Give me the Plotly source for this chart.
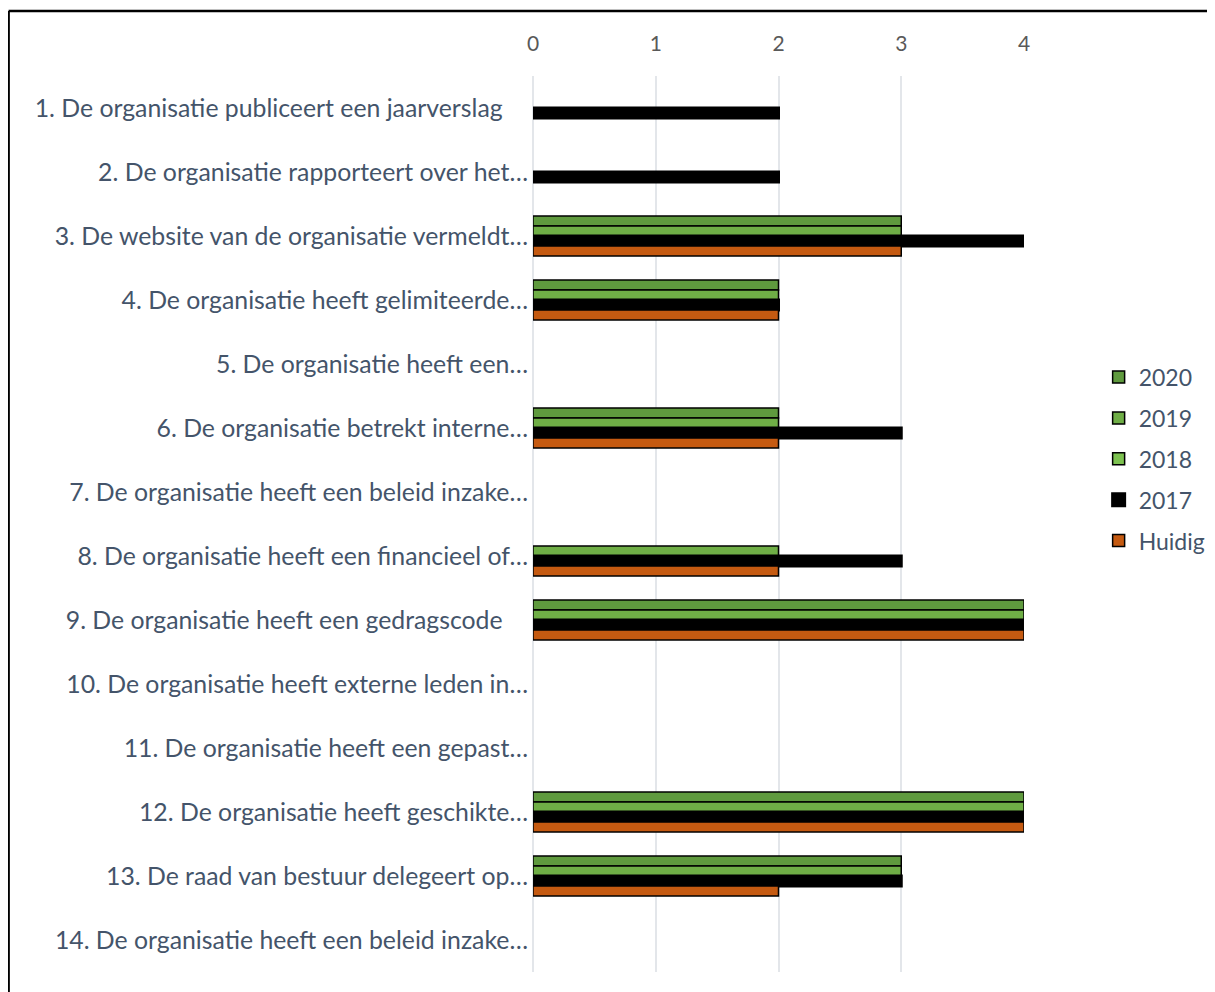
import plotly.graph_objects as go

categories = [
    "1. De organisatie publiceert een jaarverslag\u00a0\u00a0\u00a0\u00a0",
    "2. De organisatie rapporteert over het…",
    "3. De website van de organisatie vermeldt…",
    "4. De organisatie heeft gelimiteerde…",
    "5. De organisatie heeft een…",
    "6. De organisatie betrekt interne…",
    "7. De organisatie heeft een beleid inzake…",
    "8. De organisatie heeft een financieel of…",
    "9. De organisatie heeft een gedragscode\u00a0\u00a0\u00a0\u00a0",
    "10. De organisatie heeft externe leden in…",
    "11. De organisatie heeft een gepast…",
    "12. De organisatie heeft geschikte…",
    "13. De raad van bestuur delegeert op…",
    "14. De organisatie heeft een beleid inzake…",
]

v2020 = [None, None, 3, 2, None, 2, None, None, 4, None, None, 4, 3, None]
v2019 = [None, None, 3, 2, None, 2, None, 2, 4, None, None, 4, 3, None]
v2018 = [None] * 14
v2017 = [2, 2, 4, 2, None, 3, None, 3, 4, None, None, 4, 3, None]
vHuidig = [None, None, 3, 2, None, 2, None, 2, 4, None, None, 4, 2, None]

x_ticks = [0, 1, 2, 3, 4]

series = [
    ("2020", v2020, "#5F9A3E", "g1", 1.5),
    ("2019", v2019, "#6FAE46", "g2", 1.5),
    ("2018", v2018, "#7DC250", "g2", 1.5),
    ("2017", v2017, "#000000", "g3", 3),
    ("Huidig", vHuidig, "#C55A11", "g4", 1.5),
]

fig = go.Figure()
for name, vals, color, og, lw in series:
    fig.add_trace(go.Bar(
        y=categories, x=vals, name=name, orientation="h",
        offsetgroup=og, legendgroup=name,
        marker=dict(color=color, line=dict(color="#000000", width=lw)),
    ))

font_family = "Lato, Calibri, sans-serif"

fig.update_layout(
    width=1215, height=992,
    margin=dict(l=525, r=199, t=68, b=28),
    paper_bgcolor="white", plot_bgcolor="white",
    barmode="group", bargap=0.375, bargroupgap=0,
    font=dict(family=font_family, color="#44546A", size=24.8),
    xaxis=dict(
        side="top", range=[0, 4], tickvals=x_ticks, ticktext=[str(t) for t in x_ticks],
        showgrid=True, gridcolor="#E3E6EA", gridwidth=1.5,
        zeroline=True, zerolinecolor="#E3E6EA", zerolinewidth=1.5,
        showline=False, ticks="",
        tickfont=dict(size=21, color="#595959", family=font_family),
        ticklabelstandoff=20,
    ),
    yaxis=dict(
        autorange="reversed", showgrid=False, zeroline=False, showline=False,
        ticks="", tickfont=dict(size=24.8, color="#44546A", family=font_family),
        ticklabelstandoff=4,
    ),
    legend=dict(
        x=1.152, xanchor="left", y=0.5725, yanchor="middle",
        font=dict(size=23, color="#44546A", family=font_family),
        tracegroupgap=8, bgcolor="rgba(0,0,0,0)",
    ),
    shapes=[
        dict(type="line", xref="paper", yref="paper", x0=-1.068, x1=1.5, y0=1.0725, y1=1.0725,
             line=dict(color="#000000", width=2.5)),
        dict(type="line", xref="paper", yref="paper", x0=-1.068, x1=-1.068, y0=1.0725, y1=-0.05,
             line=dict(color="#000000", width=2.5)),
    ],
)

fig.write_html("out.html")
